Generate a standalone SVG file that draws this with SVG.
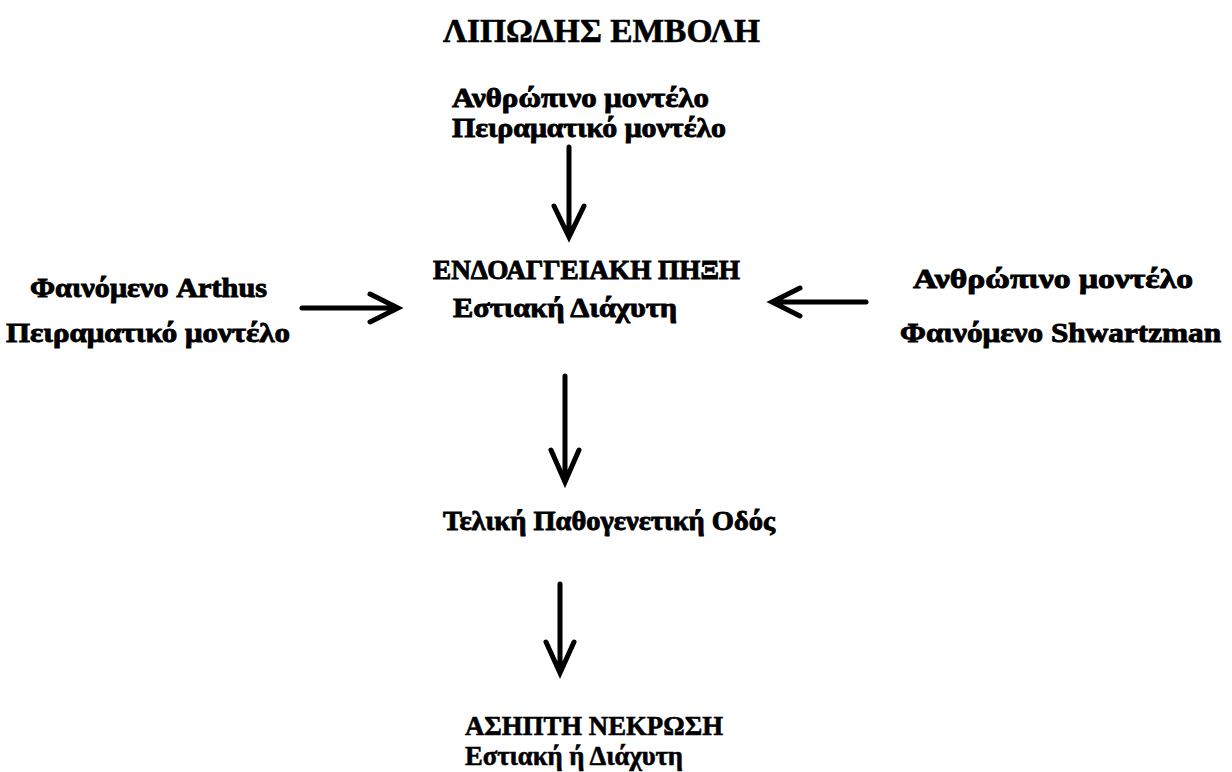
<svg xmlns="http://www.w3.org/2000/svg" width="1232" height="772" viewBox="0 0 1232 772">
<style>
text{font-family:"Liberation Serif","DejaVu Serif",serif;font-weight:bold;fill:#000}
.t{font-size:34px;stroke:#000;stroke-width:0.6}
.l{font-size:27px}
.h{stroke:#000;stroke-width:0.9}
.m{stroke:#000;stroke-width:0.6}
.a{stroke:#000;stroke-width:5;fill:none;stroke-linecap:round;stroke-linejoin:miter}
</style>
<rect width="1232" height="772" fill="#fff"/>
<g id="title"><text class="t" x="443" y="42" textLength="317" lengthAdjust="spacingAndGlyphs">ΛΙΠΩΔΗΣ ΕΜΒΟΛΗ</text></g>
<g id="top"><text class="l h" x="452" y="107" textLength="257" lengthAdjust="spacingAndGlyphs">Ανθρώπινο μοντέλο</text><text class="l h" x="452" y="137" textLength="274" lengthAdjust="spacingAndGlyphs">Πειραματικό μοντέλο</text></g>
<g id="left"><text class="l h" x="30" y="297" textLength="237" lengthAdjust="spacingAndGlyphs">Φαινόμενο Arthus</text><text class="l h" x="6" y="342" textLength="284" lengthAdjust="spacingAndGlyphs">Πειραματικό μοντέλο</text></g>
<g id="center"><text class="l h" x="433" y="279" textLength="307" lengthAdjust="spacingAndGlyphs">ΕΝΔΟΑΓΓΕΙΑΚΗ ΠΗΞΗ</text><text class="l h" x="453" y="317" textLength="224" lengthAdjust="spacingAndGlyphs">Εστιακή Διάχυτη</text></g>
<g id="right"><text class="l h" x="913" y="288" textLength="280" lengthAdjust="spacingAndGlyphs">Ανθρώπινο μοντέλο</text><text class="l h" x="900" y="342" textLength="321" lengthAdjust="spacingAndGlyphs">Φαινόμενο Shwartzman</text></g>
<g id="path"><text class="l h" x="443" y="530" textLength="332" lengthAdjust="spacingAndGlyphs">Τελική Παθογενετική Οδός</text></g>
<g id="bottom"><text class="l m" x="465" y="735" textLength="258" lengthAdjust="spacingAndGlyphs">ΑΣΗΠΤΗ ΝΕΚΡΩΣΗ</text><text class="l m" x="465" y="765" textLength="218" lengthAdjust="spacingAndGlyphs">Εστιακή ή Διάχυτη</text></g>
<g id="connectors">
<path class="a" d="M569 147V235M554 206L569 237L584 206"/>
<path class="a" d="M302 308H396M370 294L398 308L370 322"/>
<path class="a" d="M866 302H774M800 288L772 302L800 316"/>
<path class="a" d="M565 376V480M551 450L565 482L579 450"/>
<path class="a" d="M560 584V671M546 642L560 673L574 642"/>
</g>
</svg>
